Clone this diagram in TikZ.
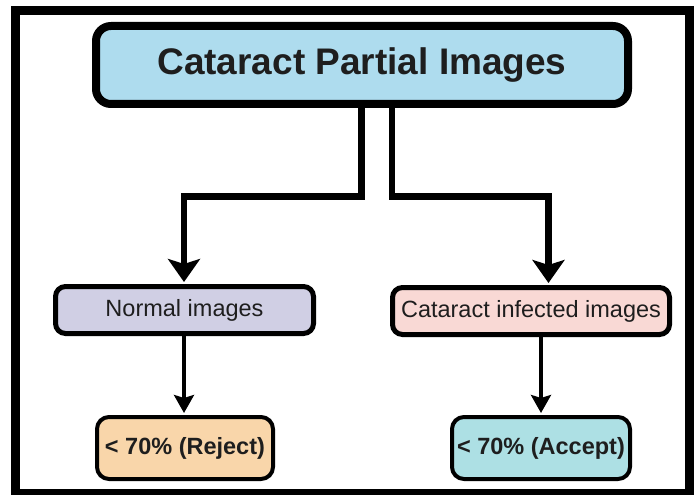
\documentclass[tikz,border=0pt]{standalone}
\usepackage{fontspec}
\setmainfont{Liberation Sans}
\usetikzlibrary{arrows.meta}
\definecolor{topfill}{RGB}{174,220,238}
\definecolor{normfill}{RGB}{208,207,228}
\definecolor{inffill}{RGB}{249,217,213}
\definecolor{rejfill}{RGB}{249,214,170}
\definecolor{accfill}{RGB}{173,224,228}
\definecolor{ink}{RGB}{30,30,30}
\tikzset{
  box/.style={draw=black, rounded corners=10pt, inner sep=0pt, text=ink, align=center},
  topbox/.style={box, line width=8pt, rounded corners=15pt, fill=topfill, font=\fontsize{37}{44}\selectfont\bfseries},
  midbox/.style={box, line width=5pt, font=\fontsize{23.5}{28}\selectfont},
  lowbox/.style={box, line width=4pt, rounded corners=12pt, font=\fontsize{23.5}{28}\selectfont\bfseries},
  bigarrow/.style={line width=6.5pt, -{Stealth[length=23pt,width=32pt,inset=5pt]}, shorten >=2pt},
  smallarrow/.style={line width=3.5pt, -{Stealth[length=18pt,width=20pt,inset=3pt]}, shorten >=2pt},
}
\begin{document}
\begin{tikzpicture}[x=1pt,y=-1pt]
\useasboundingbox (0,0) rectangle (697,495);
\fill[white] (0,0) rectangle (697,495);
\draw[line width=9pt] (15.5,10.5) rectangle (689.5,493);

\node[topbox, minimum width=532pt, minimum height=78pt] (top) at (362,65) {Cataract Partial Images};
\node[midbox, fill=normfill, minimum width=258pt, minimum height=47pt] (norm) at (184.5,310) {Normal images};
\node[midbox, fill=inffill, minimum width=277pt, minimum height=47pt] (inf) at (531,311) {Cataract infected images};
\node[lowbox, fill=rejfill, minimum width=176pt, minimum height=62pt] (rej) at (185,448) {< 70\% (Reject)};
\node[lowbox, fill=accfill, minimum width=178pt, minimum height=62pt] (acc) at (541,448) {< 70\% (Accept)};

\coordinate (j1) at (361.5,196.5);
\coordinate (j2) at (392,196.5);
\coordinate (a1) at (184,0);
\coordinate (a2) at (548.5,0);

\draw[bigarrow] (top.south -| j1) -- (j1) -- (j1 -| a1) -- (a1 |- norm.north);
\draw[bigarrow] (top.south -| j2) -- (j2) -- (j2 -| a2) -- (a2 |- inf.north);

\draw[smallarrow] (norm.south -| a1) -- (a1 |- rej.north);
\draw[smallarrow] (acc.north |- inf.south) -- (acc.north);
\end{tikzpicture}
\end{document}
